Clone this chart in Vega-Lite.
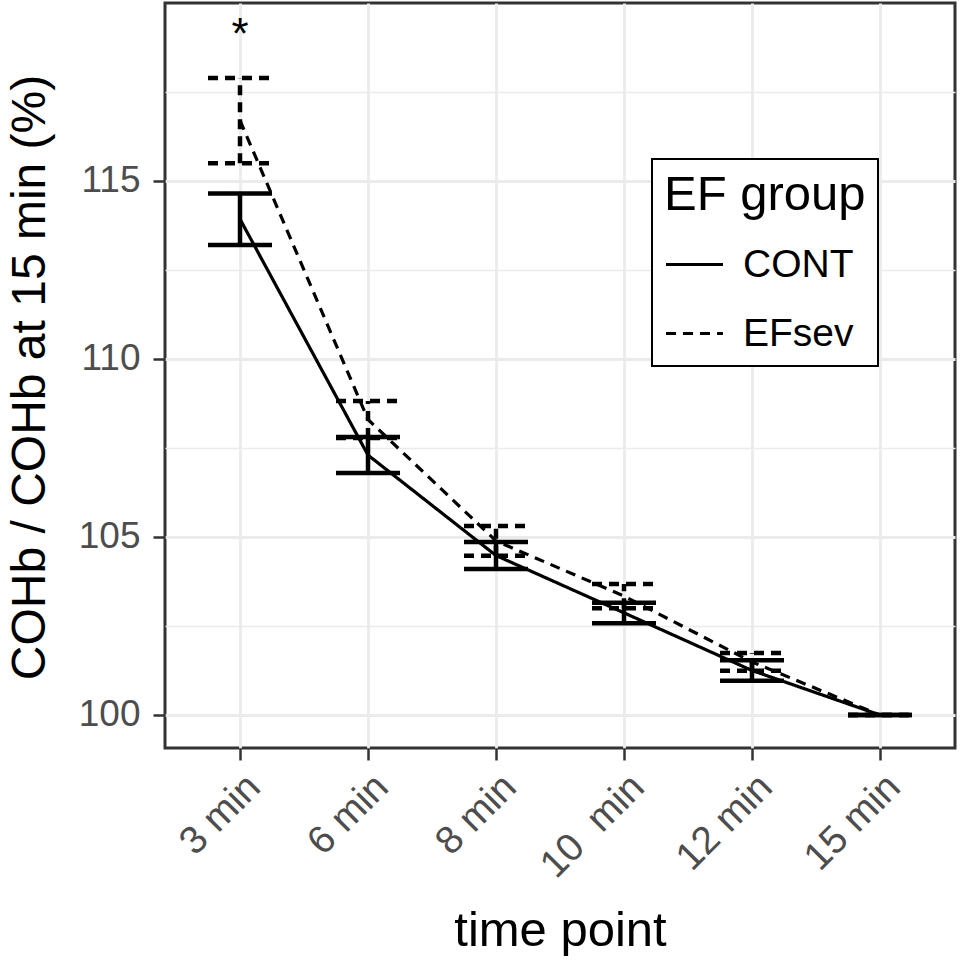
{
  "$schema": "https://vega.github.io/schema/vega-lite/v6.json",
  "width": 790,
  "height": 745,
  "autosize": {"type": "none"},
  "padding": {"left": 165, "top": 3, "right": 5, "bottom": 212},
  "background": "white",
  "config": {
    "font": "Liberation Sans",
    "view": {"stroke": "#333333", "strokeWidth": 3},
    "legend": {"strokeWidth": 2}
  },
  "datasets": {
    "stats": [
      {"time": "3 min", "group": "CONT", "mean": 113.93, "lo": 113.2, "hi": 114.65},
      {"time": "6 min", "group": "CONT", "mean": 107.3, "lo": 106.8, "hi": 107.81},
      {"time": "8 min", "group": "CONT", "mean": 104.48, "lo": 104.1, "hi": 104.86},
      {"time": "10  min", "group": "CONT", "mean": 102.87, "lo": 102.58, "hi": 103.15},
      {"time": "12 min", "group": "CONT", "mean": 101.25, "lo": 100.96, "hi": 101.54},
      {"time": "15 min", "group": "CONT", "mean": 100.0, "lo": 100.0, "hi": 100.0},
      {"time": "3 min", "group": "EFsev", "mean": 116.7, "lo": 115.5, "hi": 117.89},
      {"time": "6 min", "group": "EFsev", "mean": 108.3, "lo": 107.78, "hi": 108.82},
      {"time": "8 min", "group": "EFsev", "mean": 104.89, "lo": 104.47, "hi": 105.31},
      {"time": "10  min", "group": "EFsev", "mean": 103.34, "lo": 103.0, "hi": 103.68},
      {"time": "12 min", "group": "EFsev", "mean": 101.49, "lo": 101.24, "hi": 101.74},
      {"time": "15 min", "group": "EFsev", "mean": 100.0, "lo": 100.0, "hi": 100.0}
    ],
    "annot": [
      {"time": "3 min", "y": 118.7, "label": "*"}
    ]
  },
  "encoding": {
    "x": {
      "field": "time",
      "type": "ordinal",
      "sort": ["3 min", "6 min", "8 min", "10  min", "12 min", "15 min"],
      "scale": {"type": "point", "padding": 0.586},
      "axis": {
        "title": "time point",
        "titleFontSize": 49,
        "titleFontWeight": "normal",
        "titleColor": "black",
        "titleBaseline": "alphabetic",
        "titleY": 197,
        "labelAngle": -45,
        "labelAlign": "right",
        "labelBaseline": "top",
        "labelFontSize": 39,
        "labelColor": "#4D4D4D",
        "labelPadding": 7,
        "labelExpr": "replace(datum.label, '10  min', '10\u00a0\u00a0min')",
        "tickSize": 12,
        "tickColor": "#333333",
        "tickWidth": 2.5,
        "domain": false,
        "grid": true,
        "gridColor": "#EBEBEB",
        "gridWidth": 2.8
      }
    }
  },
  "layer": [
    {
      "data": {"name": "stats"},
      "mark": {"type": "line", "color": "black", "strokeWidth": 3.2},
      "encoding": {
        "y": {
          "field": "mean",
          "type": "quantitative",
          "scale": {"domain": [99.073, 120.0], "nice": false, "zero": false},
          "axis": {
            "title": "COHb / COHb at 15 min (%)",
            "titleFontSize": 48,
            "titleFontWeight": "normal",
            "titleColor": "black",
            "titleBaseline": "alphabetic",
            "titleAngle": 270,
            "titleX": -121,
            "titleY": 374,
            "values": [100, 102.5, 105, 107.5, 110, 112.5, 115, 117.5],
            "labelExpr": "datum.value % 5 === 0 ? datum.label : ''",
            "labelFontSize": 37,
            "labelColor": "#4D4D4D",
            "labelPadding": 13,
            "tickSize": 12,
            "tickColor": "#333333",
            "tickWidth": 2.5,
            "tickOpacity": {"condition": {"test": "datum.value % 5 !== 0", "value": 0}, "value": 1},
            "domain": false,
            "grid": true,
            "gridColor": "#EBEBEB",
            "gridWidth": {"condition": {"test": "datum.value % 5 !== 0", "value": 1.5}, "value": 2.8}
          }
        },
        "strokeDash": {
          "field": "group",
          "type": "nominal",
          "scale": {"domain": ["CONT", "EFsev"], "range": [[1, 0], [10, 7]]},
          "legend": {
            "orient": "none",
            "legendX": 487,
            "legendY": 156,
            "title": "EF group",
            "titleFontSize": 49,
            "titleFontWeight": "normal",
            "titleColor": "black",
            "titleLimit": 500,
            "titlePadding": 14,
            "labelFontSize": 39,
            "labelColor": "black",
            "labelLimit": 300,
            "labelOffset": 18,
            "symbolType": "stroke",
            "symbolSize": 3249,
            "symbolStrokeWidth": 3.2,
            "symbolStrokeColor": "black",
            "rowPadding": 18,
            "padding": 12,
            "strokeColor": "black",
            "fillColor": "white"
          }
        }
      }
    },
    {
      "data": {"name": "stats"},
      "mark": {"type": "rule", "color": "black", "strokeWidth": 4.5},
      "encoding": {
        "y": {"field": "lo", "type": "quantitative"},
        "y2": {"field": "hi"},
        "strokeDash": {"field": "group", "type": "nominal"}
      }
    },
    {
      "data": {"name": "stats"},
      "mark": {"type": "rule", "color": "black", "strokeWidth": 4.5, "xOffset": -32, "x2Offset": 32},
      "encoding": {
        "x2": {"field": "time"},
        "y": {"field": "lo", "type": "quantitative"},
        "strokeDash": {"field": "group", "type": "nominal"}
      }
    },
    {
      "data": {"name": "stats"},
      "mark": {"type": "rule", "color": "black", "strokeWidth": 4.5, "xOffset": -32, "x2Offset": 32},
      "encoding": {
        "x2": {"field": "time"},
        "y": {"field": "hi", "type": "quantitative"},
        "strokeDash": {"field": "group", "type": "nominal"}
      }
    },
    {
      "data": {"name": "annot"},
      "mark": {"type": "text", "color": "black", "fontSize": 44, "baseline": "alphabetic", "align": "center"},
      "encoding": {
        "y": {"field": "y", "type": "quantitative"},
        "text": {"field": "label"}
      }
    }
  ]
}
